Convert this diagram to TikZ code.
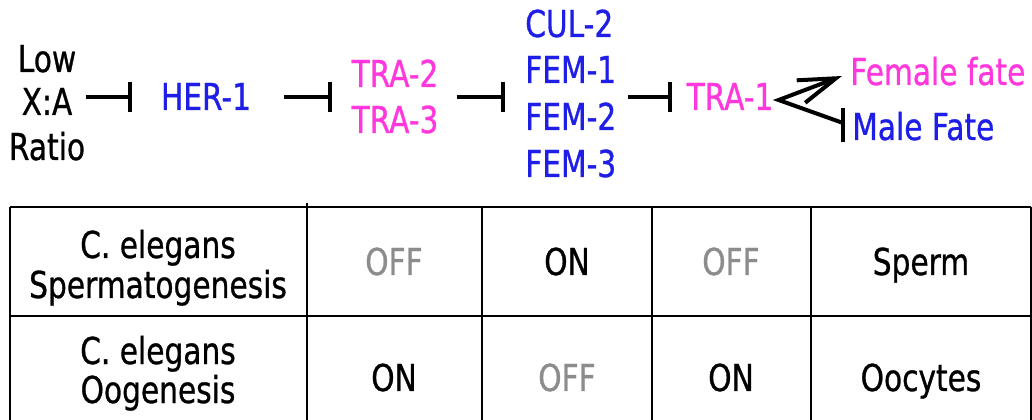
\documentclass[tikz,border=0pt]{standalone}
\usepackage{fontspec}
\newfontfamily\figfont[FakeStretch=0.8,FakeBold=0.8]{DejaVu Sans}
\usetikzlibrary{arrows.meta,calc}
\definecolor{geneblue}{RGB}{30,30,230}
\definecolor{genepink}{RGB}{255,55,220}
\definecolor{offgray}{RGB}{140,140,140}

\begin{document}
\begin{tikzpicture}[x=0.75pt,y=-0.75pt,
  lbl/.style={inner sep=0pt, anchor=base, font=\figfont\fontsize{27.8}{33}\selectfont},
  lblw/.style={lbl, anchor=base west},
  inh/.style={line width=3pt, -{Bar[width=22.5pt]}},
  act/.style={line width=3pt, line join=miter},
  grid/.style={line width=1.5pt}
]
\useasboundingbox (0,0) rectangle (1032,420);

% --- sex-determination pathway ---
\node[lbl] (low) at (47,72) {Low};
\node[lbl] (xa) at (47,115) {X:A};
\node[lbl] (ratio) at (47,160) {Ratio};
\node[lbl, text=geneblue] (her) at (206,110) {HER-1};
\node[lbl, text=genepink] (tra2) at (395,87) {TRA-2};
\node[lbl, text=genepink] (tra3) at (395,133) {TRA-3};
\node[lblw, text=geneblue] (cul2) at (525,37) {CUL-2};
\node[lblw, text=geneblue] (fem1) at (525,83) {FEM-1};
\node[lblw, text=geneblue] (fem2) at (525,130) {FEM-2};
\node[lblw, text=geneblue] (fem3) at (525,177) {FEM-3};
\node[lbl, text=genepink] (tra1) at (730,110) {TRA-1};
\node[lblw, text=genepink] (female) at (850,85) {Female fate};
\node[lblw, text=geneblue] (male) at (852,140) {Male Fate};

% inhibitory links
\draw[inh] ($(xa.base east |- her.base)+(13,-13)$) -- ($(her.base west)+(-29,-13)$);
\draw[inh] ($(her.base east)+(33,-13)$) -- ($(tra2.base west |- her.base)+(-19,-13)$);
\draw[inh] ($(tra2.base east |- her.base)+(18,-13)$) -- ($(cul2.base west |- her.base)+(-20,-13)$);
\draw[inh] ($(fem2.base east |- her.base)+(12,-13)$) -- ($(tra1.base west)+(-14,-13)$);

% TRA-1 fork: promotes female fate, blocks male fate
\coordinate (fork) at ($(tra1.base east)+(5,-10)$);
\coordinate (femtip) at ($(female.base west)+(-8,-9)$);
\coordinate (maletip) at ($(male.base west)+(-9,-17)$);
\draw[act, -{Straight Barb[length=28pt,width=18pt]}] (maletip) -- (fork) -- (femtip);
\draw[act] ($(maletip)+(0,-15)$) -- ($(maletip)+(0,19)$);

% --- ON/OFF table ---
\draw[grid] (10,207) -- (1031,207);
\draw[grid] (10,316) -- (1031,316);
\draw[grid] (10,207) -- (10,420);
\draw[grid] (307,203) -- (307,420);
\draw[grid] (482,207) -- (482,420);
\draw[grid] (652,207) -- (652,420);
\draw[grid] (811,207) -- (811,420);
\draw[grid] (1031,207) -- (1031,420);

\node[lbl] (r1a) at (158,258) {C. elegans};
\node[lbl] (r1b) at (158,298) {Spermatogenesis};
\node[lbl, text=offgray] (r1c2) at (394,275) {OFF};
\node[lbl] (r1c3) at (567,275) {ON};
\node[lbl, text=offgray] (r1c4) at (731,275) {OFF};
\node[lbl] (r1c5) at (921,275) {Sperm};

\node[lbl] (r2a) at (158,364) {C. elegans};
\node[lbl] (r2b) at (158,403) {Oogenesis};
\node[lbl] (r2c2) at (394,391) {ON};
\node[lbl, text=offgray] (r2c3) at (567,391) {OFF};
\node[lbl] (r2c4) at (731,391) {ON};
\node[lbl] (r2c5) at (921,391) {Oocytes};
\end{tikzpicture}
\end{document}
